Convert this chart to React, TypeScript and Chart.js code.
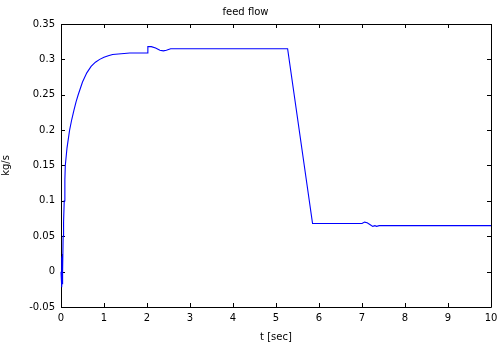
import React, { useEffect, useRef } from "react";
import { Chart, registerables } from "chart.js";

Chart.register(...registerables);

const timeSec = [0, 0.012, 0.017, 0.022, 0.027, 0.032, 0.037, 0.042, 0.05, 0.06, 0.075, 0.09, 0.1, 0.14, 0.2, 0.25, 0.3, 0.35, 0.4, 0.5, 0.6, 0.7, 0.8, 0.9, 1.0, 1.1, 1.2, 1.4, 1.6, 2.0, 2.02, 2.1, 2.2, 2.3, 2.38, 2.45, 2.55, 5.27, 5.85, 7.0, 7.06, 7.12, 7.2, 7.25, 7.3, 7.34, 7.4, 10];
const feedFlow = [0, -0.02, 0.02, -0.022, 0.022, -0.018, 0.025, 0.0, 0.05, 0.07, 0.1, 0.13, 0.15, 0.175, 0.2, 0.215, 0.228, 0.24, 0.25, 0.268, 0.281, 0.29, 0.296, 0.3, 0.303, 0.305, 0.307, 0.308, 0.309, 0.309, 0.318, 0.318, 0.316, 0.313, 0.312, 0.313, 0.315, 0.315, 0.068, 0.068, 0.07, 0.069, 0.066, 0.064, 0.065, 0.064, 0.065, 0.065];
const xTicks = [0, 1, 2, 3, 4, 5, 6, 7, 8, 9, 10];
const yTicks = [-0.05, 0, 0.05, 0.1, 0.15, 0.2, 0.25, 0.3, 0.35];

const FONT = "'DejaVu Sans', sans-serif";

const boxPlugin = {
  id: "matlabBox",
  beforeDatasetsDraw(chart: any) {
    const { ctx, chartArea } = chart;
    const { left, right, top, bottom } = chartArea;
    const xs = chart.scales.x;
    const ys = chart.scales.y;
    const len = 4;
    ctx.save();
    ctx.strokeStyle = "#000";
    ctx.lineWidth = 1;
    ctx.beginPath();
    ctx.rect(Math.round(left) + 0.5, Math.round(top) + 0.5, Math.round(right - left), Math.round(bottom - top));
    for (const t of xTicks) {
      const px = Math.round(xs.getPixelForValue(t)) + 0.5;
      ctx.moveTo(px, bottom);
      ctx.lineTo(px, bottom - len);
      ctx.moveTo(px, top);
      ctx.lineTo(px, top + len);
    }
    for (const t of yTicks) {
      const py = Math.round(ys.getPixelForValue(t)) + 0.5;
      ctx.moveTo(left, py);
      ctx.lineTo(left + len, py);
      ctx.moveTo(right, py);
      ctx.lineTo(right - len, py);
    }
    ctx.stroke();
    ctx.restore();
  },
};

export default function App() {
  const ref = useRef<HTMLCanvasElement>(null);
  useEffect(() => {
    document.body.style.margin = "0";
    const pts = timeSec.map((t, i) => ({ x: t, y: feedFlow[i] }));
    const chart = new Chart(ref.current!, {
      type: "scatter",
      data: {
        datasets: [
          {
            data: pts,
            showLine: true,
            borderColor: "#0000ff",
            borderWidth: 1.1,
            pointRadius: 0,
            tension: 0,
            clip: false,
          },
        ],
      },
      options: {
        animation: false,
        responsive: false,
        devicePixelRatio: 1,
        layout: { padding: { left: 0, right: 7, top: 0, bottom: 0 } },
        plugins: {
          legend: { display: false },
          tooltip: { enabled: false },
          title: {
            display: true,
            text: "feed flow",
            color: "#000",
            font: { family: FONT, size: 10, weight: "normal" },
            padding: { top: 6, bottom: 6 },
          },
        },
        scales: {
          x: {
            type: "linear",
            min: 0,
            max: 10,
            grid: { display: false, drawTicks: false },
            border: { display: false },
            afterFit(scale: any) {
              scale.height = 36;
              scale.paddingLeft = 0;
              scale.paddingRight = 0;
            },
            afterBuildTicks(scale: any) {
              scale.ticks = xTicks.map((v) => ({ value: v }));
            },
            ticks: {
              color: "#000",
              padding: 5,
              maxRotation: 0,
              font: { family: FONT, size: 10 },
              callback: (v: any) => String(v),
            },
            title: {
              display: true,
              text: "t [sec]",
              color: "#000",
              font: { family: FONT, size: 10 },
              padding: { top: 1, bottom: 0 },
            },
          },
          y: {
            type: "linear",
            min: -0.05,
            max: 0.35,
            grid: { display: false, drawTicks: false },
            border: { display: false },
            afterFit(scale: any) {
              scale.width = 61;
              scale.paddingTop = 0;
              scale.paddingBottom = 0;
            },
            afterBuildTicks(scale: any) {
              scale.ticks = yTicks.map((v) => ({ value: v }));
            },
            ticks: {
              color: "#000",
              padding: 6,
              font: { family: FONT, size: 10 },
              callback: (v: any) => String(Number(Number(v).toFixed(2))),
            },
            title: {
              display: true,
              text: "kg/s",
              color: "#000",
              font: { family: FONT, size: 10 },
              padding: { top: 0, bottom: 4 },
            },
          },
        },
      },
      plugins: [boxPlugin],
    });
    return () => chart.destroy();
  }, []);
  return <canvas ref={ref} width={498} height={343} />;
}
